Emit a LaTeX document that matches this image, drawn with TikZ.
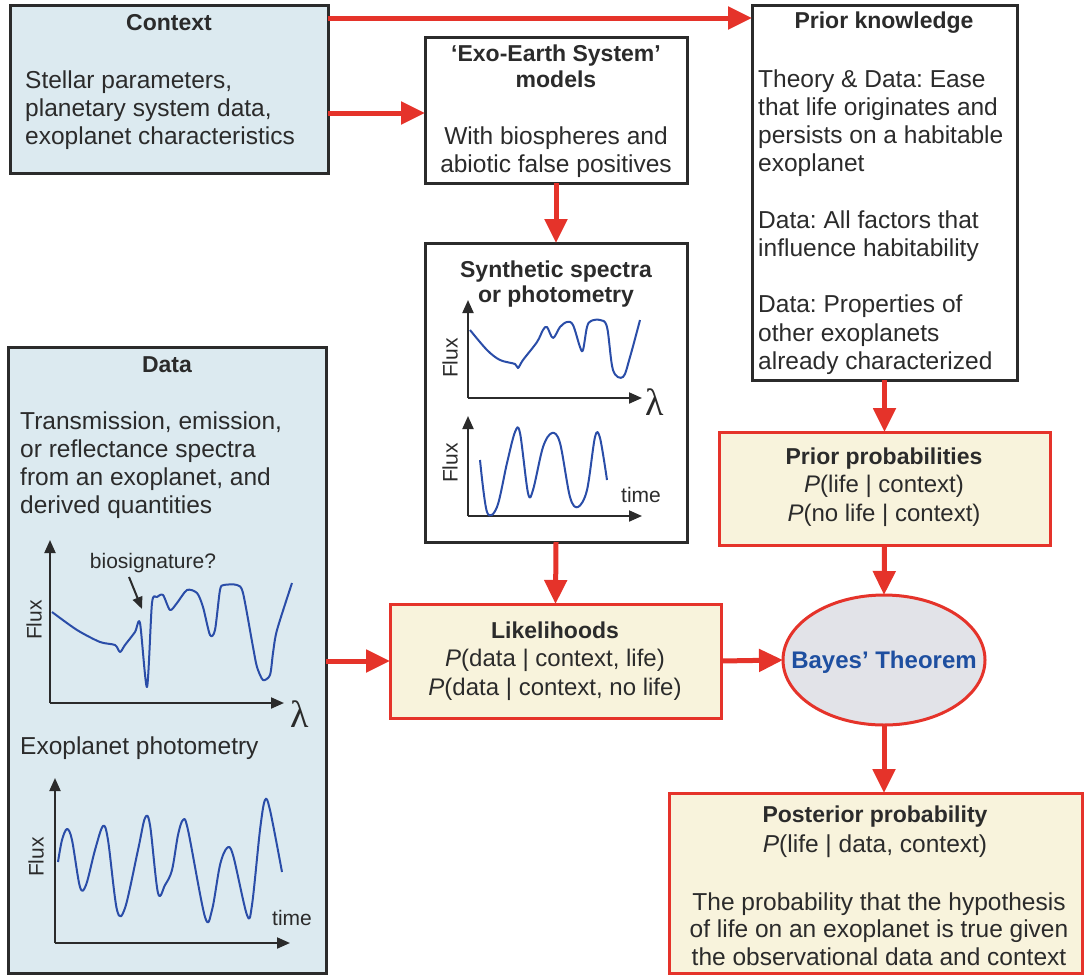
\documentclass[tikz,border=0pt]{standalone}
\usepackage{fontspec}
\setmainfont{Liberation Sans}
\newfontfamily\lamfont{Liberation Serif}
\frenchspacing
\usetikzlibrary{arrows.meta,shapes.geometric}
\definecolor{ctxblue}{HTML}{DCEAF0}
\definecolor{cream}{HTML}{F8F3DC}
\definecolor{myred}{HTML}{E5332A}
\definecolor{curveblue}{HTML}{2A4DA8}
\definecolor{bayesblue}{HTML}{1E4FA0}
\definecolor{ellgray}{HTML}{E2E3E8}
\definecolor{ink}{HTML}{2B2B2B}
\begin{document}
\frenchspacing
\begin{tikzpicture}[x=1pt,y=-1pt,
  boxbase/.style={rectangle, line width=3pt, inner sep=0pt, outer sep=0pt, anchor=north west},
  bluebox/.style={boxbase, draw=ink, fill=ctxblue},
  whitebox/.style={boxbase, draw=ink, fill=white},
  redbox/.style={boxbase, draw=myred, fill=cream},
  arr/.style={draw=myred, line width=5pt, -{Triangle[length=24pt,width=22pt]}},
  ax/.style={draw=ink, line width=2pt, -{Triangle[length=13pt,width=11pt]}},
  curve/.style={draw=curveblue, line width=2pt, line join=round},
  body/.style={inner sep=0pt, text=ink, font=\fontsize{24.5}{28}\selectfont},
  title/.style={inner sep=0pt, text=ink, align=center, font=\fontsize{23}{26}\selectfont\bfseries},
  prob/.style={inner sep=0pt, text=ink, align=center, font=\fontsize{24}{28.5}\selectfont},
  small/.style={inner sep=0pt, text=ink, font=\fontsize{21}{24}\selectfont},
  lam/.style={inner sep=0pt, text=ink, font=\lamfont\fontsize{38}{40}\selectfont}
]
\useasboundingbox (0,0) rectangle (1086,977);

% ---------- boxes ----------
\node[bluebox, minimum width=318pt, minimum height=168pt] (ctx) at (10,5) {};
\node[whitebox, minimum width=262pt, minimum height=146pt] (exo) at (425,37) {};
\node[whitebox, minimum width=262pt, minimum height=299pt] (syn) at (425,243) {};
\node[bluebox, minimum width=318pt, minimum height=626pt] (data) at (8,347) {};
\node[whitebox, minimum width=265pt, minimum height=375pt] (prior) at (752,5) {};
\node[redbox, minimum width=331pt, minimum height=113pt] (pp) at (719,432) {};
\node[redbox, minimum width=331pt, minimum height=114pt] (lik) at (390,604) {};
\node[ellipse, draw=myred, fill=ellgray, line width=3pt, inner sep=0pt, outer sep=0pt,
      minimum width=202pt, minimum height=130pt] (bayes) at (884,660) {};
\node[redbox, minimum width=413pt, minimum height=180pt] (post) at (669,793) {};

% ---------- texts ----------
\node[title] (ctxT) at (169,23) {Context};
\node[body, align=left, anchor=west] (ctxB) at (25,110)
  {Stellar parameters,\\planetary system data,\\exoplanet characteristics};

\node[title] (exoT) at (556,66) {‘Exo-Earth System’\\models};
\node[body, align=center] (exoB) at (556,152) {With biospheres and\\abiotic false positives};

\node[title, font=\fontsize{23}{24.5}\selectfont\bfseries] (synT) at (556,284) {Synthetic spectra\\or photometry};

\node[title] (dataT) at (167,365) {Data};
\node[body, align=left, anchor=west] (dataB) at (20,465)
  {Transmission, emission,\\or reflectance spectra\\from an exoplanet, and\\derived quantities};
\node[body, anchor=west] (photT) at (20,748) {Exoplanet photometry};

\node[title] (priorT) at (884,23) {Prior knowledge};
\node[body, align=left, anchor=west, font=\fontsize{24.5}{28.2}\selectfont] (priorB) at (758,222)
  {Theory \& Data: Ease\\that life originates and\\persists on a habitable\\exoplanet\\[28.2pt]
   Data: All factors that\\influence habitability\\[28.2pt]
   Data: Properties of\\other exoplanets\\already characterized};

\node[prob] (ppT) at (884,487) {\textbf{\fontsize{23}{28.5}\selectfont Prior probabilities}\\\textit{P}(life | context)\\\textit{P}(no life | context)};
\node[prob] (likT) at (555,661) {\textbf{\fontsize{23}{28.5}\selectfont Likelihoods}\\\textit{P}(data | context, life)\\\textit{P}(data | context, no life)};
\node[inner sep=0pt, text=bayesblue, font=\fontsize{24}{26}\selectfont\bfseries] (bayesT) at (884,662) {Bayes’ Theorem};
\node[prob, font=\fontsize{24.5}{30}\selectfont] (postT) at (875,832) {\textbf{\fontsize{23}{30}\selectfont Posterior probability}\\\textit{P}(life | data, context)};
\node[body, align=center, font=\fontsize{24.5}{27.5}\selectfont] (postB) at (879,929)
  {The probability that the hypothesis\\of life on an exoplanet is true given\\the observational data and context};

% ---------- connectors ----------
\coordinate (a1) at ([yshift=-13pt]ctx.north east);
\draw[arr] (a1) -- (a1 -| prior.west);
\coordinate (a2) at ([yshift=-108pt]ctx.north east);
\draw[arr] (a2) -- (a2 -| exo.west);
\draw[arr] (exo.south) -- (syn.north);
\draw[arr] (syn.south) -- (lik.north);
\draw[arr] (lik.west -| data.east) -- (lik.west);
\draw[arr] (lik.east) -- (bayes.west);
\draw[arr] (prior.south) -- (pp.north);
\draw[arr] (pp.south) -- (bayes.north);
\draw[arr] (bayes.south) -- (bayes.south |- post.north);

% ---------- synthetic spectra plot ----------
\coordinate (s1o) at (468,398);
\draw[ax] (s1o) -- (468,300);
\draw[ax] (s1o) -- (642,398);
\node[small, rotate=90] (s1f) at (450,358) {Flux};
\node[lam] (s1l) at (655,402) {λ};
\draw[curve] plot[smooth, tension=0.55] coordinates {
 (470,330) (487,350) (500,360) (515,364) (518,368) (523,360) (537,342) (543,330)
 (547,327) (553,338) (560,327) (567,322) (573,325) (580,347) (583,350) (587,327)
 (591,321) (600,320) (607,327) (613,370) (623,377) (630,357) (640,320)};

\coordinate (s2o) at (468,516);
\draw[ax] (s2o) -- (468,416);
\draw[ax] (s2o) -- (642,516);
\node[small, rotate=90] (s2f) at (450,463) {Flux};
\node[small] (s2t) at (641,495) {time};
\draw[curve] plot[smooth, tension=0.55] coordinates {
 (480,460) (487,512) (497,507) (507,463) (515,432) (520,433) (528,493) (533,490)
 (543,447) (552,433) (560,443) (570,497) (578,507) (587,490) (595,437) (600,438) (607,480)};

% ---------- data plots ----------
\coordinate (d1o) at (50,703);
\draw[ax] (d1o) -- (50,540);
\draw[ax] (d1o) -- (284,703);
\node[small, rotate=90] (d1f) at (34,620) {Flux};
\node[lam] (d1l) at (300,714) {λ};
\draw[curve] plot[smooth, tension=0.45] coordinates {
 (52,612) (77,630) (100,642) (115,645) (120,652) (125,645) (135,632) (140,623)
 (147,687) (152,603) (157,597) (163,595) (170,610) (177,603) (187,590) (197,593)
 (203,607) (210,635) (215,630) (220,590) (224,585) (237,585) (243,593) (253,647)
 (257,667) (263,680) (270,675) (273,653) (277,630) (292,583)};
\node[small] (bio) at (153,563) {biosignature?};
\coordinate (bioTip) at (142,609);
\draw[draw=ink, line width=2pt, -{Triangle[length=12pt,width=10pt]}] (bio.south -| 129,0) ++(0,4) -- (bioTip);

\coordinate (d2o) at (55,943);
\draw[ax] (d2o) -- (55,778);
\draw[ax] (d2o) -- (290,943);
\node[small, rotate=90] (d2f) at (36,857) {Flux};
\node[small] (d2t) at (292,918) {time};
\draw[curve] plot[smooth, tension=0.55] coordinates {
 (58,862) (62,840) (67,829) (72,840) (80,887) (86,885) (95,850) (103,826) (108,840)
 (117,910) (125,908) (138,850) (145,818) (150,825) (158,893) (165,885) (172,870)
 (178,835) (183,820) (188,830) (205,917) (212,910) (220,865) (227,848) (233,855)
 (247,915) (252,905) (260,830) (265,800) (270,810) (282,872)};
\end{tikzpicture}
\end{document}
